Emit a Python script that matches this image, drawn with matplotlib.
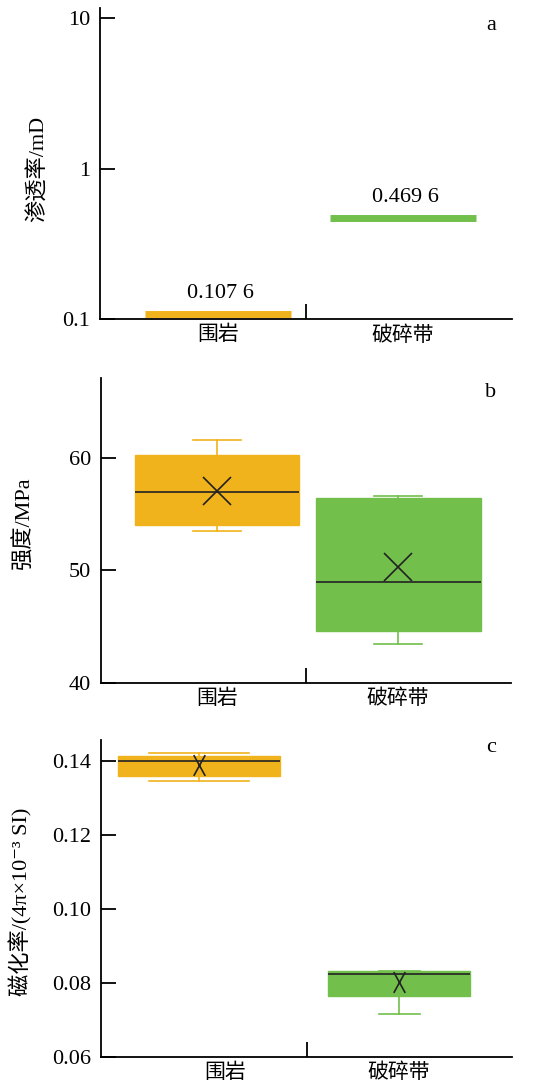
import matplotlib
matplotlib.use("Agg")
import matplotlib.pyplot as plt
from matplotlib.path import Path

plt.rcParams['font.family'] = ['Liberation Serif', 'Noto Sans CJK SC', 'DejaVu Serif']
plt.rcParams['font.size'] = 16

# data
categories = ['围岩', '破碎带']
perm = [0.1076, 0.4696]
perm_labels = ['0.107 6', '0.469 6']

strength_lo = [53.5, 43.5]
strength_q1 = [54.0, 44.6]
strength_med = [57.0, 49.0]
strength_q3 = [60.3, 56.4]
strength_hi = [61.6, 56.6]
strength_mean = [57.1, 50.3]

mag_lo = [0.1346, 0.0717]
mag_q1 = [0.1358, 0.0765]
mag_med = [0.1400, 0.0823]
mag_q3 = [0.1413, 0.0833]
mag_hi = [0.1422, 0.0833]
mag_mean = [0.1388, 0.0802]

colors = ['#F1B31C', '#72BF4C']
dark = '#222222'

# narrow cross used for the mean in panel c
narrow_x = Path([(-0.55, -1), (0.55, 1), (-0.55, 1), (0.55, -1)],
                [Path.MOVETO, Path.LINETO, Path.MOVETO, Path.LINETO])


def style_axis(ax, xlim, mid, label_pos):
    for s in ['top', 'right']:
        ax.spines[s].set_visible(False)
    for s in ['left', 'bottom']:
        ax.spines[s].set_linewidth(1.3)
    ax.set_xlim(*xlim)
    ax.set_xticks(label_pos)
    ax.set_xticklabels(categories)
    ax.tick_params(axis='x', length=0, pad=5, labelsize=15)
    ax.set_xticks([mid], minor=True)
    ax.tick_params(axis='x', which='minor', direction='in', length=11, width=1.3)
    ax.tick_params(axis='y', which='major', direction='in', length=11, width=1.3, pad=7)
    ax.tick_params(axis='y', which='minor', length=0)


def boxes(ax, lo, q1, med, q3, hi, mean, widths, capwidths, marker='x', msize=20):
    stats = []
    for i in range(len(categories)):
        stats.append(dict(whislo=lo[i], q1=q1[i], med=med[i], q3=q3[i],
                          whishi=hi[i], mean=mean[i], fliers=[]))
    res = ax.bxp(stats, positions=[0, 1], widths=widths, capwidths=capwidths,
                 patch_artist=True, showmeans=True,
                 medianprops=dict(color=dark, linewidth=1.2),
                 meanprops=dict(marker=marker, markersize=msize, markeredgecolor=dark,
                                markerfacecolor='none', markeredgewidth=1.2))
    for i, c in enumerate(colors):
        res['boxes'][i].set_facecolor(c)
        res['boxes'][i].set_edgecolor(c)
        res['boxes'][i].set_linewidth(1.0)
        for w in res['whiskers'][2 * i:2 * i + 2] + res['caps'][2 * i:2 * i + 2]:
            w.set_color(c)
            w.set_linewidth(1.2)


fig = plt.figure(figsize=(5.49, 10.89), dpi=100)

# panel a
ax1 = fig.add_axes([0.182, 0.707, 0.751, 0.2856])
ax1.hlines(perm, [-0.395, 0.605], [0.395, 1.395], colors=colors, linewidth=5)
for x, v, t in zip([0, 1], perm, perm_labels):
    ax1.annotate(t, (x, v), xytext=(2, 15), textcoords='offset points',
                 ha='center', va='center')
ax1.set_yscale('log')
ax1.set_ylim(0.1, 11.7)
ax1.set_yticks([0.1, 1, 10])
ax1.set_yticklabels(['0.1', '1', '10'])
style_axis(ax1, (-0.637, 1.589), 0.476, [0, 1])
ax1.set_ylabel('渗透率/mD')
ax1.yaxis.set_label_coords(-0.125, 0.482)
ax1.text(0.949, 0.945, 'a', transform=ax1.transAxes, ha='center', va='center')

# panel b
ax2 = fig.add_axes([0.184, 0.3728, 0.747, 0.2801])
boxes(ax2, strength_lo, strength_q1, strength_med, strength_q3, strength_hi,
      strength_mean, [0.91, 0.91], [0.265, 0.265])
ax2.set_ylim(40, 67.1)
ax2.set_yticks([40, 50, 60])
style_axis(ax2, (-0.641, 1.624), 0.491, [0, 1])
ax2.set_ylabel('强度/MPa')
ax2.yaxis.set_label_coords(-0.163, 0.525)
ax2.text(0.951, 0.951, 'b', transform=ax2.transAxes, ha='center', va='center')

# panel c
ax3 = fig.add_axes([0.184, 0.0294, 0.749, 0.2911])
boxes(ax3, mag_lo, mag_q1, mag_med, mag_q3, mag_hi, mag_mean,
      [0.81, 0.71], [0.5, 0.205], marker=narrow_x, msize=15)
ax3.set_ylim(0.06, 0.1456)
ax3.set_yticks([0.06, 0.08, 0.10, 0.12, 0.14])
ax3.set_yticklabels(['0.06', '0.08', '0.10', '0.12', '0.14'])
style_axis(ax3, (-0.49, 1.565), 0.537, [0.13, 1])
ax3.set_ylabel('磁化率/(4π×10⁻³ SI)')
ax3.yaxis.set_label_coords(-0.167, 0.489)
ax3.text(0.949, 0.975, 'c', transform=ax3.transAxes, ha='center', va='center')

fig.savefig('out.png', dpi=100)
